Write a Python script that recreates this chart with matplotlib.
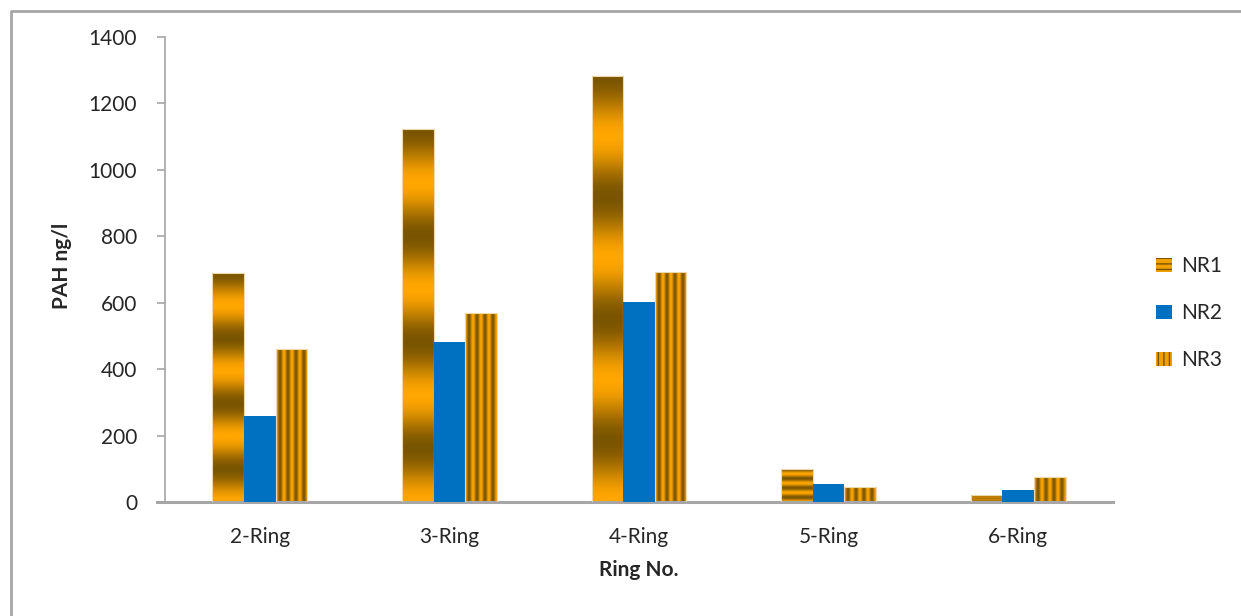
import numpy as np
import matplotlib
matplotlib.use("Agg")
import matplotlib.pyplot as plt
from matplotlib.colors import LinearSegmentedColormap
from matplotlib.patches import Rectangle
from matplotlib.lines import Line2D

plt.rcParams['font.family'] = ['Lato', 'DejaVu Sans']

categorias = ['2-Ring', '3-Ring', '4-Ring', '5-Ring', '6-Ring']
nr1 = [690, 1122, 1283, 99, 21]
nr2 = [259, 482, 602, 53, 36]
nr3 = [460, 569, 692, 44, 76]
series = ['NR1', 'NR2', 'NR3']
yticks = [0, 200, 400, 600, 800, 1000, 1200, 1400]

OSCURO = '#7A5500'
NARANJA = '#FFA600'
AZUL = '#0070C0'
GRIS = '#A6A6A6'
TEXTO = '#262626'

oro = LinearSegmentedColormap.from_list('oro', [OSCURO, NARANJA])


def rellenar_barra(ax, patch, tipo):
    """Pinta un degradado dorado recortado a la barra."""
    x0, y0 = patch.get_x(), patch.get_y()
    w, h = patch.get_width(), patch.get_height()
    if tipo == 'h':
        t = np.linspace(0, 1, 400)[:, None]
        z = 0.5 - 0.5 * np.cos(2 * np.pi * 3.5 * t)
        z = np.repeat(z, 2, axis=1)
    else:
        s = np.linspace(0, 1, 200)[None, :]
        z = 0.5 + 0.5 * np.cos(2 * np.pi * 4 * s)
        z = np.repeat(z, 2, axis=0)
    im = ax.imshow(z, cmap=oro, vmin=0, vmax=1, aspect='auto', origin='upper',
                   extent=[x0, x0 + w, y0, y0 + h], interpolation='bilinear',
                   zorder=2)
    im.set_clip_path(patch)


fig = plt.figure(figsize=(12.41, 6.16), dpi=100)
ax = fig.add_axes([165 / 1241, 1 - 502 / 616, 948 / 1241, 465 / 616])

x = np.arange(len(categorias))
w = 1 / 6

barras1 = ax.bar(x - w, nr1, w, facecolor='none', edgecolor='#EED7A8', lw=0.8, zorder=3)
ax.bar(x, nr2, w, color=AZUL, zorder=3)
barras3 = ax.bar(x + w, nr3, w, facecolor='none', edgecolor='#EED7A8', lw=0.8, zorder=3)
for b in barras1:
    rellenar_barra(ax, b, 'h')
for b in barras3:
    rellenar_barra(ax, b, 'v')

ax.set_xlim(-0.5, len(categorias) - 0.5)
ax.set_ylim(0, 1400)
ax.set_yticks(yticks)
ax.set_xticks(x)
ax.set_xticklabels(categorias)

for lado in ['top', 'right']:
    ax.spines[lado].set_visible(False)
ax.spines['left'].set_color(GRIS)
ax.spines['left'].set_linewidth(1.2)
ax.spines['bottom'].set_color(GRIS)
ax.spines['bottom'].set_linewidth(2.2)
ax.spines['bottom'].set_bounds(-0.5 - 8 / 189.6, len(categorias) - 0.5)
ax.tick_params(axis='y', length=6, width=1.2, color=GRIS, pad=14,
               labelsize=15, labelcolor=TEXTO)
ax.tick_params(axis='x', length=0, pad=18, labelsize=15, labelcolor=TEXTO)

ax.set_ylabel('PAH ng/l', fontsize=15, fontweight='bold', color=TEXTO)
ax.yaxis.set_label_coords(-0.098, 0.507)
ax.set_xlabel('Ring No.', fontsize=15, fontweight='bold', color=TEXTO)
ax.xaxis.set_label_coords(0.5, -0.125)
ax.xaxis.label.set_va('top')

# leyenda con muestras rayadas
manijas = [
    Rectangle((0, 0), 1, 1, facecolor='#F0A000', edgecolor=OSCURO, hatch='---', lw=0),
    Rectangle((0, 0), 1, 1, facecolor=AZUL, lw=0),
    Rectangle((0, 0), 1, 1, facecolor='#F0A000', edgecolor=OSCURO, hatch='|||', lw=0),
]
fig.legend(manijas, series, loc='center left',
           bbox_to_anchor=(1156 / 1241, 1 - 313 / 616), frameon=False,
           fontsize=15, labelspacing=1.3, handlelength=0.75, handleheight=0.65,
           handletextpad=0.45, borderpad=0, borderaxespad=0, labelcolor=TEXTO)

# marco exterior del gráfico
fig.add_artist(Line2D([11 / 1241, 11 / 1241, 1.0], [0.0, 1 - 11 / 616, 1 - 11 / 616],
                      transform=fig.transFigure, color=GRIS, lw=2))

fig.savefig('out.png', dpi=100, facecolor='white')
